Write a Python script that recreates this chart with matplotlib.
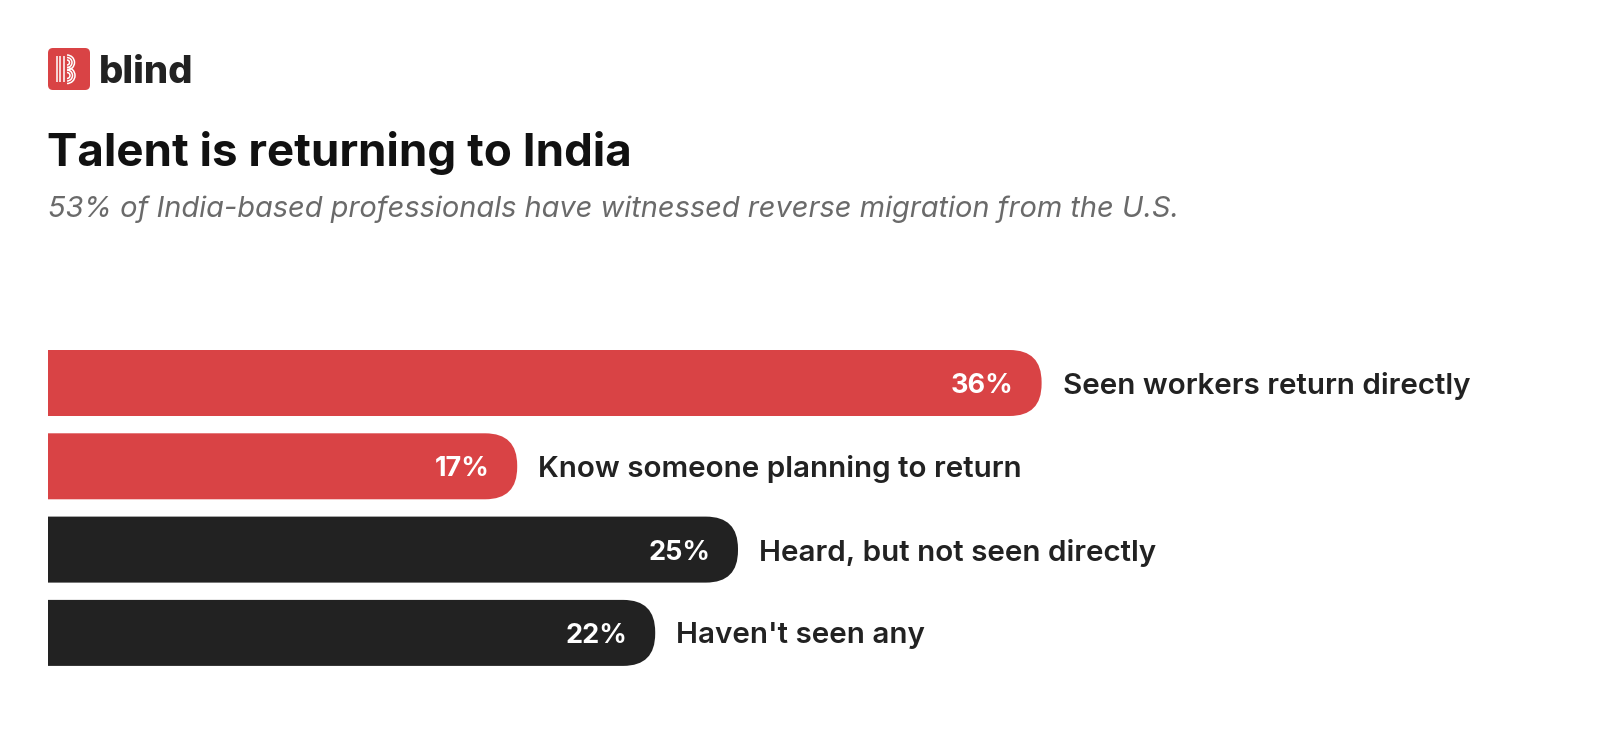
import matplotlib.pyplot as plt
from matplotlib.patches import FancyBboxPatch, Arc

# data
categories = ["Seen workers return directly", "Know someone planning to return",
              "Heard, but not seen directly", "Haven't seen any"]
values = [36, 17, 25, 22]
groups = ["seen", "seen", "not_seen", "not_seen"]

title = "Talent is returning to India"
subtitle = "53% of India-based professionals have witnessed reverse migration from the U.S."

RED = "#D94345"
DARK = "#222222"
colors = {"seen": RED, "not_seen": DARK}

W, H = 1600, 744
fig = plt.figure(figsize=(W / 100, H / 100), dpi=100)
fig.patch.set_facecolor("white")

FONT = ["Inter", "DejaVu Sans"]

# bar axes: 27.6 px per percent, rows 83.3 px apart
px_per_pct = 27.6
row_px = 83.3
x0_px, y_first = 48, 383
n = len(values)
xmax = 50
ax_w = xmax * px_per_pct
top_px = y_first - row_px / 2
ax_h = n * row_px
ax = fig.add_axes([x0_px / W, 1 - (top_px + ax_h) / H, ax_w / W, ax_h / H])
ax.set_xlim(0, xmax)
ax.set_ylim(n - 0.5, -0.5)
ax.axis("off")

bar_h = 66 / row_px
r_px = 32
rsize = r_px / px_per_pct
aspect = px_per_pct / row_px

for i, (cat, v, g) in enumerate(zip(categories, values, groups)):
    # start left of axis so that only the right end is rounded (left is clipped)
    p = FancyBboxPatch((-3, i - bar_h / 2), v + 3, bar_h,
                       boxstyle=f"round,pad=0,rounding_size={rsize}",
                       mutation_aspect=aspect, facecolor=colors[g],
                       edgecolor="none", clip_on=True)
    ax.add_patch(p)
    p.set_clip_path(ax.patch)
    ax.annotate(f"{v}%", xy=(v, i), xytext=(-28, 0), textcoords="offset pixels",
                ha="right", va="center_baseline", color="white",
                fontsize=19.5, fontweight="bold", family=FONT)
    ax.annotate(cat, xy=(v, i), xytext=(21, 0), textcoords="offset pixels",
                ha="left", va="center_baseline", color=DARK,
                fontsize=21.3, fontweight="semibold", family=FONT)

# overlay in pixel coords for header / logo
ov = fig.add_axes([0, 0, 1, 1], zorder=-1)
ov.set_xlim(0, W)
ov.set_ylim(H, 0)
ov.axis("off")

ov.add_patch(FancyBboxPatch((48, 48), 42, 42, boxstyle="round,pad=0,rounding_size=5",
                            facecolor=RED, edgecolor="none"))
for lx in (56.5, 60, 63.5):
    ov.plot([lx, lx], [56, 82], color="white", lw=1.1, solid_capstyle="butt")
for cy, rs in ((62.5, (7.5, 5, 2.5)), (75.5, (8, 5.5, 3))):
    for r in rs:
        ov.add_patch(Arc((67, cy), 2 * r, 2 * r, theta1=-90, theta2=90,
                         color="white", lw=1.1))
ov.text(99, 83, "blind", fontsize=27.5, fontweight="heavy", color=DARK,
        family=FONT, va="baseline", ha="left")

ov.text(47, 166, title, fontsize=32.9, fontweight="bold", color="#111111",
        family=FONT, va="baseline", ha="left")
ov.text(48, 217, subtitle, fontsize=20.9, style="italic", color="#6a6a6a",
        family=FONT, va="baseline", ha="left")

fig.savefig("out.png", dpi=100, facecolor="white")
